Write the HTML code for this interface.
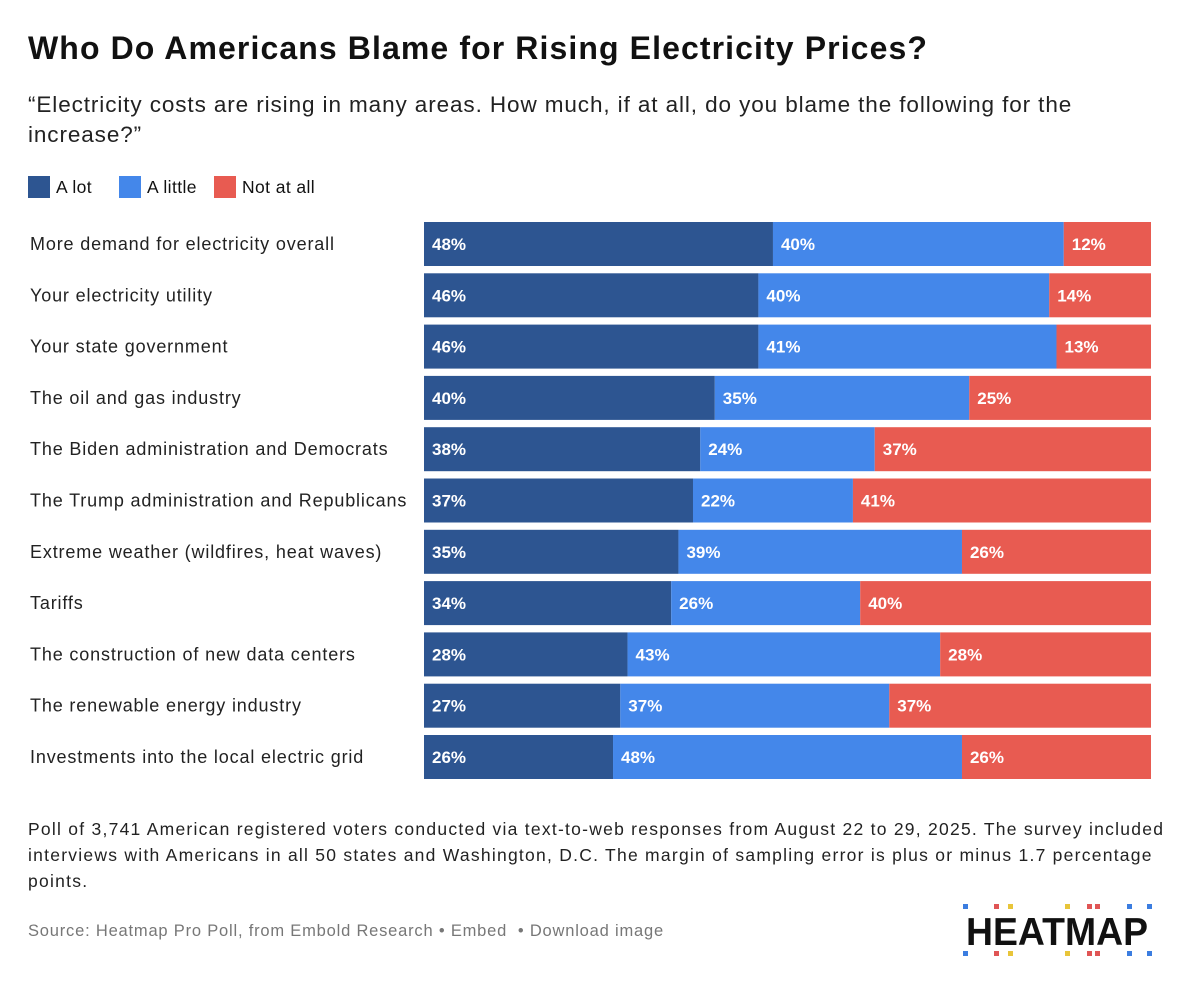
<!DOCTYPE html>
<html><head><meta charset="utf-8"><style>
body{margin:0;background:#fff;font-family:"Liberation Sans",sans-serif;color:#111;}
#wrap{position:relative;width:1200px;height:984px;overflow:hidden}
h1{position:absolute;left:28px;top:30px;margin:0;font-size:32px;font-weight:bold;letter-spacing:1.1px;white-space:nowrap}
.sub{position:absolute;left:28px;top:90px;width:1150px;font-size:22.5px;line-height:30px;color:#222;letter-spacing:0.9px;white-space:nowrap}
.leg{position:absolute;top:176px;font-size:17.5px;display:flex;align-items:center;letter-spacing:0.4px}
.sw{width:22px;height:22px;margin-right:6px}
.note{position:absolute;left:28px;top:816px;width:1160px;font-size:17.5px;line-height:26px;color:#222;letter-spacing:1.25px;white-space:nowrap}
.src{position:absolute;left:28px;top:922px;font-size:16.5px;color:#777;letter-spacing:0.8px;white-space:nowrap}
</style></head><body><div id="wrap">
<h1>Who Do Americans Blame for Rising Electricity Prices?</h1>
<div class="sub">“Electricity costs are rising in many areas. How much, if at all, do you blame the following for the<br>increase?”</div>
<div class="leg" style="left:28px"><div class="sw" style="background:#2d5591"></div>A lot</div>
<div class="leg" style="left:119px"><div class="sw" style="background:#4487ea"></div>A little</div>
<div class="leg" style="left:214px"><div class="sw" style="background:#e85b51"></div>Not at all</div>
<svg id="chart" width="1200" height="984" style="position:absolute;left:0;top:0"></svg>
<div class="note">Poll of 3,741 American registered voters conducted via text-to-web responses from August 22 to 29, 2025. The survey included<br>interviews with Americans in all 50 states and Washington, D.C. The margin of sampling error is plus or minus 1.7 percentage<br>points.</div>
<div class="src">Source: Heatmap Pro Poll, from Embold Research • <span>Embed</span> &nbsp;• <span>Download image</span></div>
<svg width="200" height="70" style="position:absolute;left:955px;top:898px">
<g fill="#3b7de0"><rect x="8" y="6" width="5" height="5"/><rect x="8" y="53" width="5" height="5"/><rect x="172" y="6" width="5" height="5"/><rect x="172" y="53" width="5" height="5"/><rect x="192" y="6" width="5" height="5"/><rect x="192" y="53" width="5" height="5"/></g>
<g fill="#e05555"><rect x="39" y="6" width="5" height="5"/><rect x="39" y="53" width="5" height="5"/><rect x="132" y="6" width="5" height="5"/><rect x="140" y="6" width="5" height="5"/><rect x="132" y="53" width="5" height="5"/><rect x="140" y="53" width="5" height="5"/></g>
<g fill="#e8c53a"><rect x="53" y="6" width="5" height="5"/><rect x="53" y="53" width="5" height="5"/><rect x="110" y="6" width="5" height="5"/><rect x="110" y="53" width="5" height="5"/></g>
<text x="11" y="47" font-family="Liberation Sans, sans-serif" font-weight="bold" font-size="39" fill="#111" textLength="182" lengthAdjust="spacingAndGlyphs">HEATMAP</text>
</svg>
</div>
<script>
const categories=["More demand for electricity overall","Your electricity utility","Your state government","The oil and gas industry","The Biden administration and Democrats","The Trump administration and Republicans","Extreme weather (wildfires, heat waves)","Tariffs","The construction of new data centers","The renewable energy industry","Investments into the local electric grid"];
const aLot=[48,46,46,40,38,37,35,34,28,27,26];
const aLittle=[40,40,41,35,24,22,39,26,43,37,48];
const notAtAll=[12,14,13,25,37,41,26,40,28,37,26];
const svg=document.getElementById('chart');const NS='http://www.w3.org/2000/svg';
const x0=424,x1=1151,y0=222,pitch=51.3,bh=44;
const x=v=>x0+(x1-x0)*v/100;
const colors=["#2d5591","#4487ea","#e85b51"];const names=["a-lot","a-little","not-at-all"];
categories.forEach((c,i)=>{
 const y=y0+i*pitch;
 const t=document.createElementNS(NS,'text');
 
 
 t.setAttribute('x',30);t.setAttribute('y',y+bh/2+6);t.setAttribute('font-size','18');t.setAttribute('letter-spacing','0.85');t.setAttribute('fill','#222');t.setAttribute('font-family','Liberation Sans, sans-serif');
 t.textContent=c;svg.appendChild(t);
 const vals=[aLot[i],aLittle[i],notAtAll[i]];let cum=0;
 vals.forEach((v,k)=>{
  const s=cum;cum+=v;const e=k==2?100:cum;
  const r=document.createElementNS(NS,'rect');
  
  
  r.setAttribute('x',x(s));r.setAttribute('y',y);r.setAttribute('width',Math.max(0,x(e)-x(s)));r.setAttribute('height',bh);r.setAttribute('fill',colors[k]);
  svg.appendChild(r);
  const l=document.createElementNS(NS,'text');
  
  
  l.setAttribute('x',x(s)+8);l.setAttribute('y',y+bh/2+6);l.setAttribute('font-size','17');l.setAttribute('font-weight','bold');l.setAttribute('fill','#fff');l.setAttribute('font-family','Liberation Sans, sans-serif');
  l.textContent=v+'%';svg.appendChild(l);
 });
});
</script></body></html>
